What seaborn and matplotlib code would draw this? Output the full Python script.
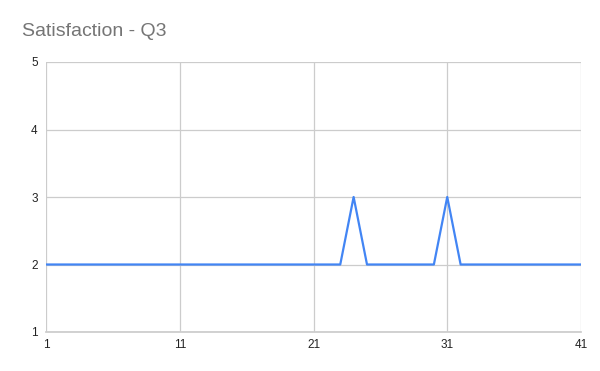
import matplotlib
matplotlib.use("Agg")
import matplotlib.pyplot as plt
import seaborn as sns
import pandas as pd

x_values = list(range(1, 42))
satisfaction = [2] * 23 + [3] + [2] * 6 + [3] + [2] * 10
x_ticks = [1, 11, 21, 31, 41]
y_ticks = [1, 2, 3, 4, 5]

df = pd.DataFrame({"x": x_values, "y": satisfaction})

sns.set_theme(style="white")
plt.rcParams['font.family'] = ['Liberation Sans', 'DejaVu Sans']

fig = plt.figure(figsize=(6, 3.71), dpi=100)
ax = fig.add_axes([46/600, 1-332/371, 535/600, 270/371])
sns.lineplot(data=df, x="x", y="y", ax=ax, color="#4285F4", linewidth=1.6)

ax.set_xlim(1, 41)
ax.set_ylim(1, 5)
ax.set_xticks(x_ticks)
ax.set_yticks(y_ticks)
ax.set_xticklabels([str(t) for t in x_ticks], fontsize=8.5, color="#222222")
ax.set_yticklabels([str(t) for t in y_ticks], fontsize=8.5, color="#222222")
ax.grid(True, color="#cccccc", linewidth=0.9)
ax.set_axisbelow(True)
for s in ax.spines.values():
    s.set_visible(False)
ax.spines['bottom'].set_visible(True)
ax.spines['bottom'].set_color("#cccccc")
ax.tick_params(axis='x', length=0, pad=5)
ax.tick_params(axis='y', length=0, pad=6)
ax.set_xlabel("")
ax.set_ylabel("")
fig.text(22/600, 1-32/371, "Satisfaction - Q3", fontsize=14, color="#757575", va="center", ha="left")

fig.savefig("out.png", dpi=100)
